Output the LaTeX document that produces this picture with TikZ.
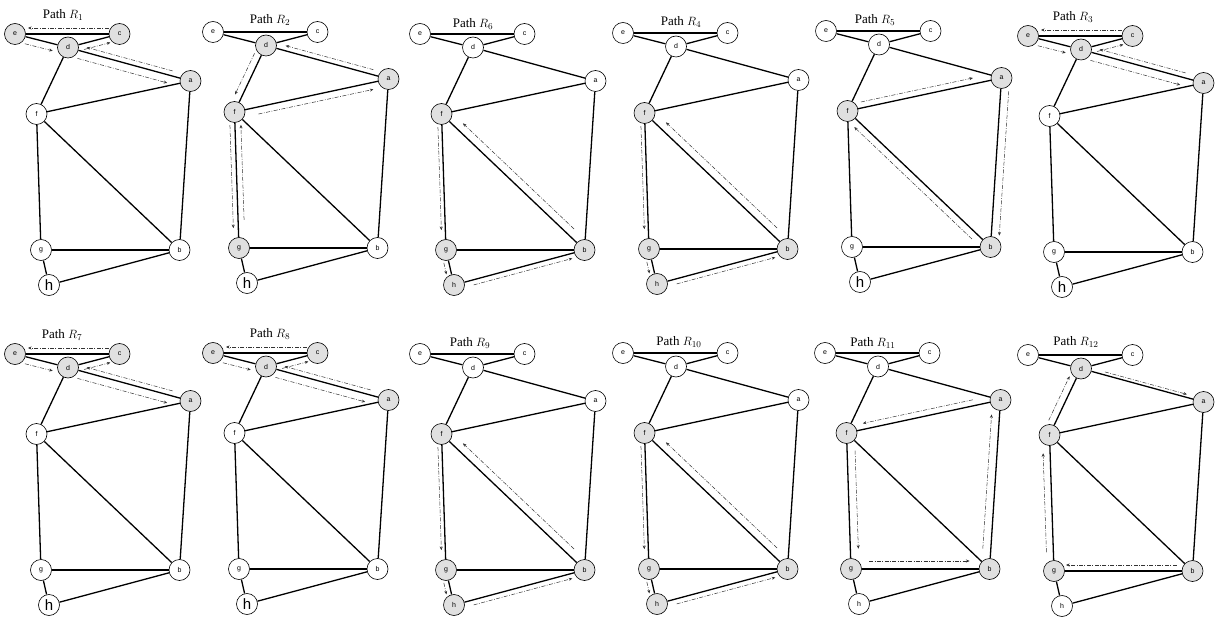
\documentclass[tikz,border=0pt]{standalone}
\usepackage{fontspec}
\setmainfont{Liberation Serif}
\newfontfamily\nodefont{Liberation Sans}
\usetikzlibrary{calc,arrows.meta}

\tikzset{
 vnode/.style={circle, draw, line width=0.6pt, minimum size=21pt, inner sep=0pt, fill=white, font=\nodefont\fontsize{7}{8}\selectfont},
 gnode/.style={fill=black!12},
 bigh/.style={font=\nodefont\fontsize{15}{16}\selectfont},
 gedge/.style={line width=1.3pt},
 trail/.style={-{Stealth[length=3.5pt,width=3pt]}, line width=0.5pt, black!80, dash pattern=on 4pt off 1.5pt on 0.8pt off 1.5pt},
 ptitle/.style={font=\fontsize{13}{14}\selectfont, inner sep=0pt},
}

% one panel: #1 id, #2 #3 position of node e, #4 style keys, #5 title offset, #6 subscript
\newcommand\gpanel[6]{%
\begin{scope}[shift={(#2,#3)}, st e/.style={}, st c/.style={}, st d/.style={}, st a/.style={}, st f/.style={}, st g/.style={}, st b/.style={}, st h/.style={}, #4]
\node[vnode, st e] (#1e) at (0,0) {e};
\node[vnode, st c] (#1c) at (104.5,0) {c};
\node[vnode, st d] (#1d) at (53,13.5) {d};
\node[vnode, st a] (#1a) at (175.5,47) {a};
\node[vnode, st f] (#1f) at (21.5,80) {f};
\node[vnode, st g] (#1g) at (26,216) {g};
\node[vnode, st b] (#1b) at (164.5,216) {b};
\node[vnode, st h] (#1h) at (34,251) {h};
\draw[gedge] (#1e) -- (#1c);
\draw[gedge] (#1e) -- (#1d);
\draw[gedge] (#1d) -- (#1c);
\draw[gedge] (#1d) -- (#1a);
\draw[gedge] (#1d) -- (#1f);
\draw[gedge] (#1f) -- (#1a);
\draw[gedge] (#1f) -- (#1g);
\draw[gedge] (#1f) -- (#1b);
\draw[gedge] (#1a) -- (#1b);
\draw[gedge] (#1g) -- (#1b);
\draw[gedge] (#1g) -- (#1h);
\draw[gedge] (#1h) -- (#1b);
\node[ptitle] (#1t) at (#5) {Path $R_{#6}$};
\end{scope}}

% dash-dot arrow beside an edge: from, to, start distance, end distance, offset (positive = right of travel)
\newcommand\trailarrow[5]{\draw[trail] ($(#1)!#3!(#2)!#5!-90:(#2)$) -- ($(#2)!#4!(#1)!#5!90:(#1)$);}

\newcommand\patA[1]{%
\trailarrow{#1c}{#1e}{11pt}{13pt}{6pt}
\trailarrow{#1e}{#1d}{12pt}{14pt}{7pt}
\trailarrow{#1d}{#1a}{12pt}{22pt}{8pt}
\trailarrow{#1a}{#1d}{20pt}{18pt}{5pt}
\trailarrow{#1d}{#1c}{15pt}{11pt}{6pt}}
\newcommand\patB[1]{%
\trailarrow{#1a}{#1d}{17pt}{19pt}{5pt}
\trailarrow{#1d}{#1f}{12pt}{16pt}{7pt}
\trailarrow{#1f}{#1g}{13pt}{20pt}{5pt}
\trailarrow{#1g}{#1f}{28pt}{13pt}{6pt}
\trailarrow{#1f}{#1a}{23pt}{17pt}{7pt}}
\newcommand\patC[1]{%
\trailarrow{#1f}{#1g}{13pt}{20pt}{4pt}
\trailarrow{#1g}{#1h}{12pt}{12pt}{5pt}
\trailarrow{#1h}{#1b}{19pt}{14pt}{5pt}
\trailarrow{#1b}{#1f}{22pt}{22pt}{8pt}}
\newcommand\patD[1]{%
\trailarrow{#1f}{#1a}{15pt}{28pt}{-6pt}
\trailarrow{#1a}{#1b}{13pt}{12pt}{-8pt}
\trailarrow{#1b}{#1f}{19pt}{16pt}{-7pt}}
\newcommand\patE[1]{%
\trailarrow{#1a}{#1f}{27pt}{18pt}{6pt}
\trailarrow{#1f}{#1g}{18pt}{20pt}{-8pt}
\trailarrow{#1g}{#1b}{18pt}{20pt}{-8pt}
\trailarrow{#1b}{#1a}{20pt}{15pt}{-8pt}}
\newcommand\patF[1]{%
\trailarrow{#1d}{#1a}{24pt}{18pt}{-3pt}
\trailarrow{#1b}{#1g}{16pt}{12pt}{6pt}
\trailarrow{#1g}{#1f}{19pt}{18pt}{-7pt}
\trailarrow{#1f}{#1d}{13pt}{12pt}{-7pt}}

\begin{document}
\begin{tikzpicture}[x=1pt, y=-1pt]
\useasboundingbox (0,0) rectangle (1220,617);
\fill[white] (0,0) rectangle (1220,617);

% row 1
\gpanel{p1}{15}{34}{st e/.style=gnode, st c/.style=gnode, st d/.style=gnode, st a/.style=gnode, st h/.style=bigh}{48,-19}{1}
\patA{p1}
\gpanel{p2}{213}{32}{st d/.style=gnode, st f/.style=gnode, st g/.style=gnode, st a/.style=gnode, st h/.style=bigh}{57,-12}{2}
\patB{p2}
\gpanel{p3}{420}{34}{st f/.style=gnode, st g/.style=gnode, st h/.style=gnode, st b/.style=gnode}{53,-10}{6}
\patC{p3}
\gpanel{p4}{623}{33}{st f/.style=gnode, st g/.style=gnode, st h/.style=gnode, st b/.style=gnode}{58,-11}{4}
\patC{p4}
\gpanel{p5}{826}{31}{st f/.style=gnode, st a/.style=gnode, st b/.style=gnode, st h/.style=bigh}{49,-11}{5}
\patD{p5}
\gpanel{p6}{1028}{36}{st e/.style=gnode, st c/.style=gnode, st d/.style=gnode, st a/.style=gnode, st h/.style=bigh}{45,-19}{3}
\patA{p6}

% row 2
\gpanel{p7}{15}{354}{st e/.style=gnode, st c/.style=gnode, st d/.style=gnode, st a/.style=gnode, st h/.style=bigh}{47,-19}{7}
\patA{p7}
\gpanel{p8}{213}{353}{st e/.style=gnode, st c/.style=gnode, st d/.style=gnode, st a/.style=gnode, st h/.style=bigh}{57,-19}{8}
\patA{p8}
\gpanel{p9}{420}{354}{st f/.style=gnode, st g/.style=gnode, st h/.style=gnode, st b/.style=gnode}{50,-11}{9}
\patC{p9}
\gpanel{p10}{623}{353}{st f/.style=gnode, st g/.style=gnode, st h/.style=gnode, st b/.style=gnode}{56,-11}{10}
\patC{p10}
\gpanel{p11}{825}{353}{st a/.style=gnode, st f/.style=gnode, st g/.style=gnode, st b/.style=gnode}{48,-10}{11}
\patE{p11}
\gpanel{p12}{1028}{355}{st d/.style=gnode, st a/.style=gnode, st b/.style=gnode, st g/.style=gnode, st f/.style=gnode}{48,-13}{12}
\patF{p12}
\end{tikzpicture}
\end{document}
